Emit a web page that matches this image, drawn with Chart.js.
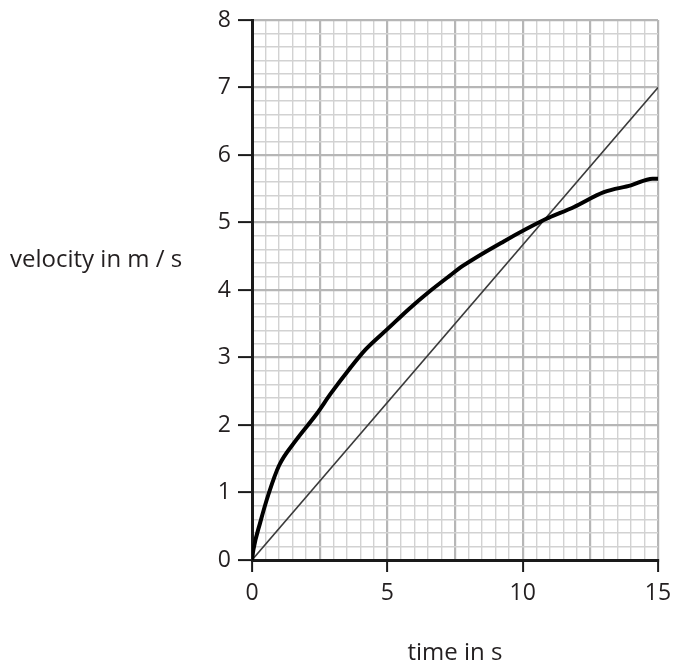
<!DOCTYPE html>
<html>
<head>
<meta charset="utf-8">
<script src="https://cdn.jsdelivr.net/npm/chart.js@4"></script>
<style>
  html, body { margin: 0; padding: 0; background: #fff; }
  #wrap { position: relative; width: 675px; height: 666px; }
</style>
</head>
<body>
<div id="wrap"><canvas id="chart"></canvas></div>
<script>
// Axis titles
const xTitle = 'time in s';
const yTitle = 'velocity in m / s';

const curveTime = [0, 0.05, 0.3, 0.63, 1.0, 1.6, 2.4, 2.9, 3.6, 4.2, 5.0, 5.8, 6.5, 7.3, 7.8, 9.3, 10.8, 11.9, 13.0, 14.0, 14.8, 15.0];
const curveVelocity = [0, 0.15, 0.55, 1.0, 1.4, 1.76, 2.17, 2.46, 2.83, 3.12, 3.42, 3.72, 3.96, 4.21, 4.36, 4.72, 5.04, 5.23, 5.45, 5.55, 5.65, 5.65];

// Straight reference line
const lineTime = [0, 15];
const lineVelocity = [0, 7];

const FONT = '"Open Sans", "Noto Sans", sans-serif';
const TEXT = '#231f20';
const MINOR = '#d2d2d2';
const MAJOR = '#b6b6b6';

const near = (v, step) => Math.abs(v / step - Math.round(v / step)) < 1e-6;

const axisTitles = {
  id: 'axisTitles',
  afterDraw(chart) {
    const { ctx, chartArea } = chart;
    ctx.save();
    ctx.font = `24px ${FONT}`;
    ctx.fillStyle = TEXT;
    ctx.textAlign = 'left';
    ctx.textBaseline = 'alphabetic';
    ctx.fillText(yTitle, 10, 267);
    ctx.textAlign = 'center';
    ctx.fillText(xTitle, (chartArea.left + chartArea.right) / 2, 660);
    ctx.restore();
  },
};

new Chart(document.getElementById('chart'), {
  type: 'line',
  data: {
    datasets: [
      {
        data: curveTime.map((t, i) => ({ x: t, y: curveVelocity[i] })),
        borderColor: '#000',
        borderWidth: 4,
        cubicInterpolationMode: 'monotone',
        pointRadius: 0,
        borderCapStyle: 'round',
        borderJoinStyle: 'round',
      },
      {
        data: lineTime.map((t, i) => ({ x: t, y: lineVelocity[i] })),
        borderColor: '#3a3a3a',
        borderWidth: 1.6,
        tension: 0,
        pointRadius: 0,
      },
    ],
  },
  options: {
    responsive: true,
    maintainAspectRatio: false,
    animation: false,
    layout: { padding: { top: 20, right: 17, left: 0, bottom: 0 } },
    scales: {
      x: {
        type: 'linear',
        min: 0,
        max: 15,
        afterFit: (scale) => {
          scale.height = 106;
          scale.paddingLeft = 0;
          scale.paddingRight = 0;
        },
        border: { color: '#1a1a1a', width: 3 },
        grid: {
          color: (c) => (near(c.tick.value, 2.5) ? MAJOR : MINOR),
          lineWidth: (c) => (near(c.tick.value, 2.5) ? 2.2 : 1.4),
          tickLength: 12,
          tickColor: (c) => (near(c.tick.value, 5) ? '#1a1a1a' : 'rgba(0,0,0,0)'),
          tickWidth: 2,
        },
        ticks: {
          stepSize: 0.5,
          autoSkip: false,
          maxRotation: 0,
          padding: 8,
          color: TEXT,
          font: { family: FONT, size: 23 },
          callback: (v) => (near(v, 5) ? Math.round(v) : ''),
        },
      },
      y: {
        min: 0,
        max: 8,
        afterFit: (scale) => {
          scale.width = 252;
          scale.paddingTop = 0;
          scale.paddingBottom = 0;
        },
        border: { color: '#1a1a1a', width: 3 },
        grid: {
          color: (c) => (near(c.tick.value, 1) ? MAJOR : MINOR),
          lineWidth: (c) => (near(c.tick.value, 1) ? 2.2 : 1.4),
          tickLength: 14,
          tickColor: (c) => (near(c.tick.value, 1) ? '#1a1a1a' : 'rgba(0,0,0,0)'),
          tickWidth: 2,
        },
        ticks: {
          stepSize: 0.2,
          autoSkip: false,
          padding: 7,
          color: TEXT,
          font: { family: FONT, size: 23 },
          callback: (v) => (near(v, 1) ? Math.round(v) : ''),
        },
      },
    },
    plugins: {
      legend: { display: false },
      tooltip: { enabled: false },
    },
  },
  plugins: [axisTitles],
});
</script>
</body>
</html>
